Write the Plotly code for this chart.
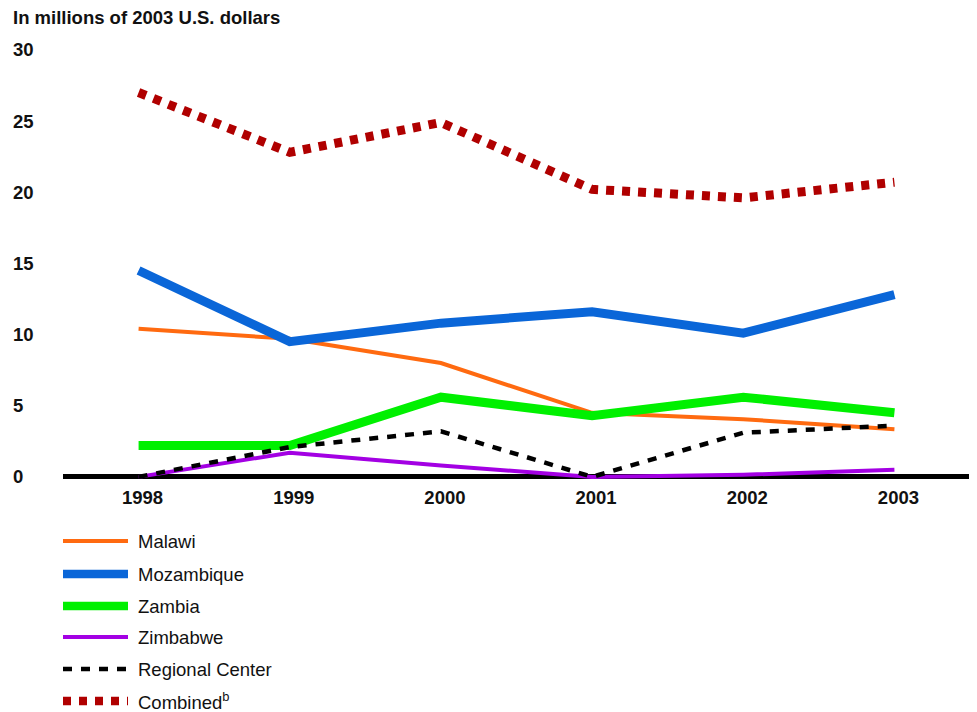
import plotly.graph_objects as go

years = [1998, 1999, 2000, 2001, 2002, 2003]
malawi = [10.4, 9.7, 8.0, 4.5, 4.05, 3.35]
mozambique = [14.5, 9.5, 10.8, 11.6, 10.1, 12.8]
zambia = [2.2, 2.2, 5.6, 4.3, 5.6, 4.5]
zimbabwe = [0.0, 1.7, 0.8, 0.0, 0.15, 0.5]
regional = [0.0, 2.1, 3.2, 0.0, 3.1, 3.6]
combined = [27.0, 22.8, 24.9, 20.2, 19.6, 20.7]

y_ticks = [0, 5, 10, 15, 20, 25, 30]
y_title = "In millions of 2003 U.S. dollars"

series_names = ["Malawi", "Mozambique", "Zambia", "Zimbabwe", "Regional Center", "Combined<sup>b</sup>"]
series_values = [malawi, mozambique, zambia, zimbabwe, regional, combined]
series_styles = [
    dict(color="#ff6a10", width=4, dash="solid"),
    dict(color="#0a66d8", width=9, dash="solid"),
    dict(color="#00f000", width=9, dash="solid"),
    dict(color="#a300e3", width=4, dash="solid"),
    dict(color="#000000", width=4.5, dash="9px,9px"),
    dict(color="#b00000", width=9, dash="8px,8px"),
]

# page offset from the default body margin
OFF = 8
W, H = 977 - OFF, 712 - OFF
ML, MR, MT, MB = 63 - OFF, 7, 47 - OFF, 228
PW = W - ML - MR
PH = H - MT - MB


def px_x(x):
    # page pixel -> paper coordinate
    return (x - OFF - ML) / PW


def px_y(y):
    return (H - MB - (y - OFF)) / PH


font = "Liberation Sans, Arial, Helvetica, sans-serif"
FS = 18.5

fig = go.Figure()
for name, vals, st in zip(series_names, series_values, series_styles):
    fig.add_trace(go.Scatter(x=years, y=vals, mode="lines", name=name,
                             line=dict(color=st["color"], width=st["width"], dash=st["dash"]),
                             showlegend=False))

annotations = []
for t in y_ticks:
    annotations.append(dict(x=px_x(11), xref="paper", y=t, yref="y", text=f"<b>{t}</b>",
                            showarrow=False, xanchor="left", yanchor="middle",
                            font=dict(family=font, size=FS, color="#111")))
annotations.append(dict(x=px_x(11), xref="paper", y=px_y(17), yref="paper", text=f"<b>{y_title}</b>",
                        showarrow=False, xanchor="left", yanchor="middle",
                        font=dict(family=font, size=FS, color="#111")))

shapes = []
legend_rows = [541, 574, 606, 637, 669, 701]
for name, st, ry in zip(series_names, series_styles, legend_rows):
    shapes.append(dict(type="line", xref="paper", yref="paper",
                       x0=px_x(63), x1=px_x(128), y0=px_y(ry), y1=px_y(ry),
                       line=dict(color=st["color"], width=st["width"] if st["width"] < 6 else 8.5,
                                 dash=st["dash"])))
    annotations.append(dict(x=px_x(136), xref="paper", y=px_y(ry), yref="paper", text=name,
                            showarrow=False, xanchor="left", yanchor="middle",
                            font=dict(family=font, size=FS, color="#111")))

fig.update_layout(
    width=W, height=H,
    margin=dict(l=ML, r=MR, t=MT, b=MB, pad=0),
    paper_bgcolor="white", plot_bgcolor="white",
    xaxis=dict(range=[1997.5, 2003.5], tickmode="array", tickvals=years,
               ticktext=[f"<b>{y}</b>" for y in years], showgrid=False, zeroline=False,
               showline=False, ticks="", ticklabelshift=4,
               tickfont=dict(family=font, size=FS, color="#111")),
    yaxis=dict(range=[-0.5, 30.2], showgrid=False, zeroline=True, zerolinecolor="black",
               zerolinewidth=5, showticklabels=False, ticks="", showline=False),
    annotations=annotations,
    shapes=shapes,
    showlegend=False,
)

fig.write_html("out.html")
